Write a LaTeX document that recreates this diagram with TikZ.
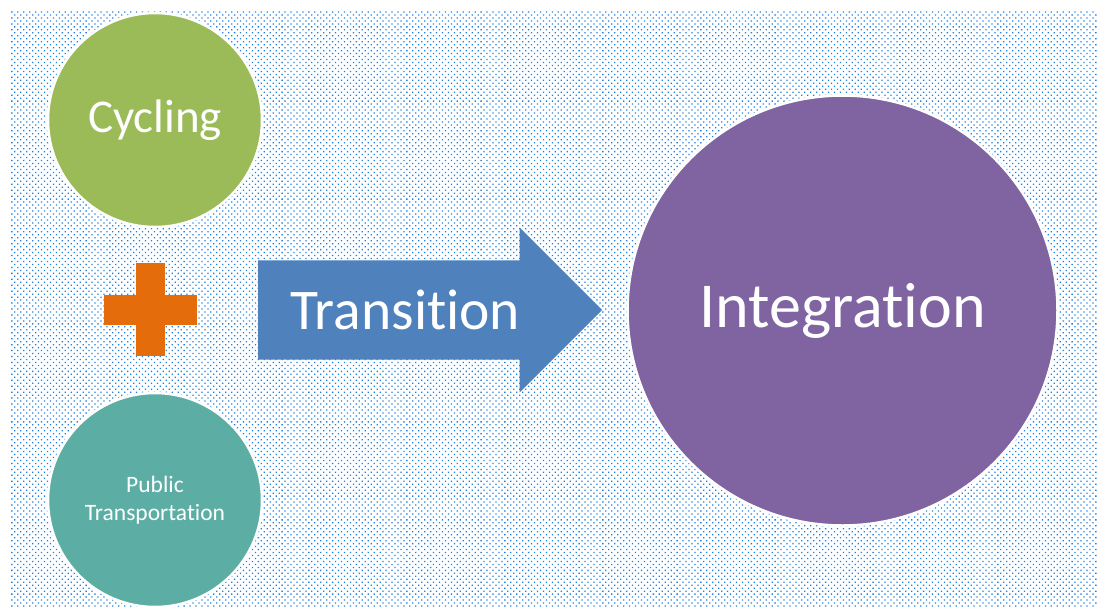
\documentclass[tikz,border=0pt]{standalone}
\usepackage{fontspec}
\setmainfont{Carlito}[Ligatures=NoCommon]
\usepackage{tikz}
\usetikzlibrary{shapes,arrows,positioning,patterns.meta}

\definecolor{cyclegreen}{HTML}{9BBB59}
\definecolor{transteal}{HTML}{5CAEA5}
\definecolor{plusorange}{HTML}{E46C0A}
\definecolor{arrowblue}{HTML}{4F81BD}
\definecolor{integpurple}{HTML}{8064A2}
\definecolor{dotblue}{HTML}{1E80E0}

\begin{document}
\begin{tikzpicture}[
        x=1pt, y=-1pt,
        bubble/.style={circle, draw=white, line width=2.5pt, text=white, inner sep=0pt, align=center},
        dotted bg/.style={pattern={Dots[angle=45, distance=4.2pt, radius=0.9pt]}, pattern color=dotblue}
    ]
    \useasboundingbox (0,0) rectangle (1098,606);
    \fill[white] (0,0) rectangle (1098,606);
    \fill[dotted bg] (11,11) rectangle (1098,606);

    % left column: the two modes and the plus between them
    \node[bubble, fill=cyclegreen, minimum size=214pt, font=\fontsize{47}{50}\selectfont] (cycling) at (155,120) {Cycling};
    \node[bubble, fill=transteal, minimum size=214pt, font=\fontsize{23.5}{28}\selectfont] (public) at (155,500) {Public\\Transportation};
    \fill[plusorange] (136,263) rectangle (165,356);
    \fill[plusorange] (104,295) rectangle (197,325);

    % arrow and result
    \node[single arrow, fill=arrowblue, anchor=tail, minimum height=344pt,
          text height=35pt, text depth=10pt, inner xsep=0pt, inner ysep=27pt,
          single arrow head extend=33pt, single arrow tip angle=90,
          label={[text=white, font=\fontsize{57.5}{60}\selectfont]center:Transition}] (transition) at (258,310) {};
    \node[bubble, fill=integpurple, minimum size=430pt, font=\fontsize{64}{66}\selectfont] (integration) at (842.5,310.5) {Integration};
\end{tikzpicture}
\end{document}
